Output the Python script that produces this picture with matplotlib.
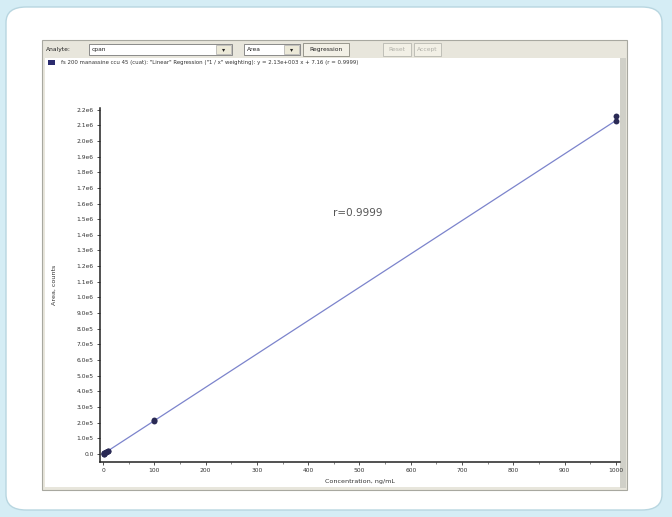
import matplotlib
matplotlib.use("Agg")
import matplotlib.pyplot as plt
from matplotlib.patches import FancyBboxPatch, Rectangle
from matplotlib.ticker import FixedLocator, MultipleLocator
import numpy as np

# ---- data ----
conc = [1, 1, 2, 2, 5, 5, 10, 10, 100, 100, 1000, 1000]
area = [2.2e3, 2.1e3, 4.3e3, 4.2e3, 1.07e4, 1.05e4, 2.15e4, 2.1e4,
        2.12e5, 2.15e5, 2.13e6, 2.16e6]
slope = 2.13e3
intercept = 7.16
x_ticks = [0, 100, 200, 300, 400, 500, 600, 700, 800, 900, 1000]
y_ticks = [i * 1e5 for i in range(23)]
y_tick_labels = ["0.0"] + ["%d.0e5" % i for i in range(1, 10)] + \
    ["%.1fe6" % (i / 10) for i in range(10, 23)]
legend_text = ('fs 200 manassine ccu 45 (cuat): "Linear" Regression '
               '("1 / x" weighting): y = 2.13e+003 x + 7.16 (r = 0.9999)')
r_text = "r=0.9999"

W, H = 672, 517
fig = plt.figure(figsize=(W / 100, H / 100), dpi=100)
fig.patch.set_facecolor("#d5edf5")

def fx(x):
    return x / W

def fy(y):
    return 1 - y / H

def frect(x0, y0, x1, y1, **kw):
    r = Rectangle((fx(x0), fy(y1)), fx(x1) - fx(x0), fy(y0) - fy(y1),
                  transform=fig.transFigure, zorder=0, **kw)
    fig.patches.append(r)
    return r

# white rounded card
card = FancyBboxPatch((fx(6), fy(510)), fx(662) - fx(6), fy(7) - fy(510),
                      boxstyle="round,pad=0,rounding_size=0.03",
                      transform=fig.transFigure, facecolor="white",
                      edgecolor="#b8d6e0", linewidth=1.0, zorder=-1)
fig.patches.append(card)

# application window
frect(42, 40, 627, 490, facecolor="#e8e6dc", edgecolor="#a8a8a0", linewidth=0.8)
frect(45, 58, 620, 487, facecolor="white", edgecolor="none")
frect(620, 58, 626, 488, facecolor="#d0d0c8", edgecolor="none")

# toolbar
fs_small = 4.3
fig.text(fx(46), fy(49), "Analyte:", fontsize=fs_small, va="center", color="#222222")
frect(89, 44, 232, 55, facecolor="white", edgecolor="#7a7a7a", linewidth=0.6)
fig.text(fx(92), fy(49.5), "cpan", fontsize=fs_small, va="center", color="#222222")
frect(216, 45, 231, 54, facecolor="#ece9d8", edgecolor="#9a9a9a", linewidth=0.4)
fig.text(fx(223.5), fy(49.5), "▾", fontsize=4.5, ha="center", va="center", color="#222222")
frect(244, 44, 300, 55, facecolor="white", edgecolor="#7a7a7a", linewidth=0.6)
fig.text(fx(247), fy(49.5), "Area", fontsize=fs_small, va="center", color="#222222")
frect(284, 45, 299, 54, facecolor="#ece9d8", edgecolor="#9a9a9a", linewidth=0.4)
fig.text(fx(291.5), fy(49.5), "▾", fontsize=4.5, ha="center", va="center", color="#222222")
frect(303, 43, 349, 56, facecolor="#f2f0e6", edgecolor="#8a8a80", linewidth=0.6)
fig.text(fx(326), fy(49.5), "Regression", fontsize=fs_small, ha="center", va="center", color="#222222")
frect(383, 43, 411, 56, facecolor="#f2f0e6", edgecolor="#b8b8b0", linewidth=0.6)
fig.text(fx(397), fy(49.5), "Reset", fontsize=fs_small, ha="center", va="center", color="#b0b0a8")
frect(414, 43, 441, 56, facecolor="#f2f0e6", edgecolor="#b8b8b0", linewidth=0.6)
fig.text(fx(427.5), fy(49.5), "Accept", fontsize=fs_small, ha="center", va="center", color="#b0b0a8")

# legend row
frect(48, 60, 55, 65, facecolor="#2b2b6e", edgecolor="none")
fig.text(fx(61), fy(62.5), legend_text, fontsize=3.9, va="center", color="#333333")

# main axes
ax = fig.add_axes([fx(100), fy(462), fx(620) - fx(100), fy(108) - fy(462)])
ax.set_zorder(5)
ax.patch.set_alpha(0)
ax.set_xlim(-6, 1008)
ax.set_ylim(-0.051e6, 2.21e6)

xl = np.array([0, 1000])
ax.plot(xl, slope * xl + intercept, color="#7c84cc", linewidth=0.9, zorder=2)
ax.scatter(conc, area, s=18, marker="o", color="#2a2a55", zorder=3, linewidths=0)

for s in ["top", "right"]:
    ax.spines[s].set_visible(False)
for s in ["left", "bottom"]:
    ax.spines[s].set_linewidth(1.1)
    ax.spines[s].set_color("#222222")

ax.xaxis.set_major_locator(FixedLocator(x_ticks))
ax.set_xticklabels([str(v) for v in x_ticks])
ax.xaxis.set_minor_locator(MultipleLocator(50))
ax.yaxis.set_major_locator(FixedLocator(y_ticks))
ax.set_yticklabels(y_tick_labels)
ax.tick_params(axis="both", which="major", labelsize=4.3, length=2.5, width=0.6,
               colors="#333333", pad=2)
ax.tick_params(axis="x", which="minor", length=1.5, width=0.5, colors="#555555")

ax.set_xlabel("Concentration, ng/mL", fontsize=4.6, color="#333333", labelpad=4)
ax.set_ylabel("Area, counts", fontsize=4.6, color="#333333", labelpad=14)

ax.text(497, 1.54e6, r_text, fontsize=7.5, color="#555555", ha="center", va="center")

fig.savefig("out.png", dpi=100, facecolor=fig.get_facecolor())
